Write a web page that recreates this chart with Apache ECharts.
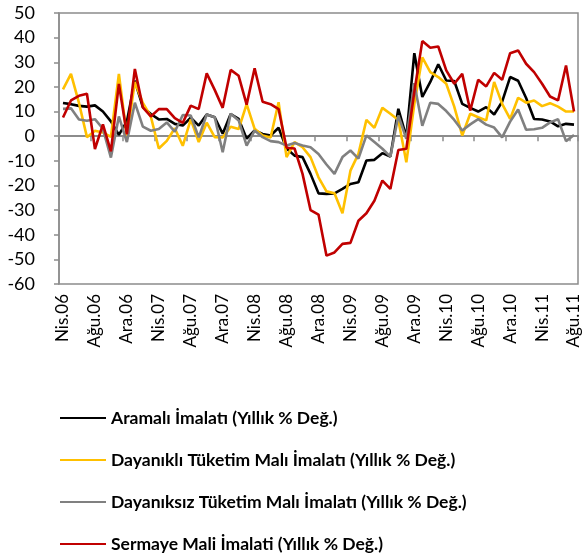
<!DOCTYPE html>
<html>
<head>
<meta charset="utf-8">
<script src="https://cdn.jsdelivr.net/npm/echarts@6/dist/echarts.min.js"></script>
<style>
html,body{margin:0;padding:0;background:#fff;}
#c{width:584px;height:559px;}
</style>
</head>
<body>
<div id="c"></div>
<script>
var categories = [
 'Nis.06','May.06','Haz.06','Tem.06','Ağu.06','Eyl.06','Eki.06','Kas.06','Ara.06',
 'Oca.07','Şub.07','Mar.07','Nis.07','May.07','Haz.07','Tem.07','Ağu.07','Eyl.07','Eki.07','Kas.07','Ara.07',
 'Oca.08','Şub.08','Mar.08','Nis.08','May.08','Haz.08','Tem.08','Ağu.08','Eyl.08','Eki.08','Kas.08','Ara.08',
 'Oca.09','Şub.09','Mar.09','Nis.09','May.09','Haz.09','Tem.09','Ağu.09','Eyl.09','Eki.09','Kas.09','Ara.09',
 'Oca.10','Şub.10','Mar.10','Nis.10','May.10','Haz.10','Tem.10','Ağu.10','Eyl.10','Eki.10','Kas.10','Ara.10',
 'Oca.11','Şub.11','Mar.11','Nis.11','May.11','Haz.11','Tem.11','Ağu.11'
];

var seriesNames = [
 'Aramalı İmalatı (Yıllık % Değ.)',
 'Dayanıklı Tüketim Malı İmalatı (Yıllık % Değ.)',
 'Dayanıksız Tüketim Malı İmalatı (Yıllık % Değ.)',
 'Sermaye Mali İmalati (Yıllık % Değ.)'
];

var aramali = [13.5,13,12.3,12,12.5,10,6,0.5,6,22.5,11.8,9,6.8,7,5,4.3,7.5,4.3,8.8,7.7,1,9,7,-1,2.3,0.9,0.3,3.4,-5,-7.9,-8.5,-15.3,-23.2,-23.4,-23.2,-21.4,-19.4,-18.7,-9.9,-9.6,-6.9,-8.3,11.1,-0.4,33.7,15.9,22,29.2,22.6,22.4,13.1,11.5,10,11.8,8.8,14,24,22.5,15.5,7,6.8,6,4,5,4.7];

var dayanikli = [19,25.3,13.5,-0.4,2.2,1.5,-0.3,25.3,0,22,13.5,8,-5,-1.9,3.2,-3.9,6.8,-2.4,5.5,-0.4,-0.5,3.8,2.9,13,3,0.3,-0.5,13.8,-8.5,-2.4,-4.5,-8.5,-16.7,-22.4,-23.2,-31.3,-14,-7.2,6.6,3.4,11.5,9.1,6.6,-10.6,13,32,26,24,21.3,12,0.3,9.1,7.7,6.4,22,13.1,7,15.6,13.6,14.5,12.2,13.4,12,10,10];

var dayaniksiz = [11.1,11.3,6.8,6.3,6.9,3,-8.7,8,-2.4,13.6,3.9,2.2,2.9,5.6,1.8,8.6,8.4,-0.5,8.8,7.7,-6.5,9.1,6.4,-3.8,2.3,-0.4,-2,-2.4,-3.8,-2.8,-3.8,-4.5,-7.2,-11.5,-15.3,-8.5,-5.8,-9.1,0.3,-2.4,-5.1,-8.3,8.4,-1.1,21.5,4.2,13.6,13.1,10.2,6.6,2.3,4.8,6.9,4.7,3.5,-0.5,5.9,10.8,2.6,2.8,3.4,5.6,6.9,-2,0.5];

var sermaye = [7.6,14.5,16.4,17.2,-5.2,4.8,-6.2,21.2,0.8,27.3,11.7,8,11,11,7.3,5.4,12.4,11,25.5,18.8,11.5,26.9,24.5,12.8,27.6,14,13,11,-4.7,-5,-15.3,-30,-31.8,-48.5,-47.2,-43.7,-43.3,-34.3,-31.3,-26.2,-18,-21.4,-5.6,-5.1,18,38.6,35.9,36.4,26.7,21.3,25.3,10.4,22.9,20.2,25.7,22.9,33.7,34.8,29.4,26,21.3,16.1,14.5,28.7,10];

var colors = ['#000000','#FFC000','#808080','#C00000'];
var values = [aramali, dayanikli, dayaniksiz, sermaye];

var FONT = 'Lato, "Liberation Sans", sans-serif';
var chart = echarts.init(document.getElementById('c'), null, {renderer:'canvas'});

var series = values.map(function(v, k){
  return {
    name: seriesNames[k],
    type: 'line',
    data: v,
    xAxisIndex: 0,
    yAxisIndex: 0,
    symbol: 'none',
    smooth: false,
    lineStyle: {color: colors[k], width: 2.6},
    itemStyle: {color: colors[k]},
    z: 3 + k,
    animation: false
  };
});

chart.setOption({
  animation: false,
  backgroundColor: '#ffffff',
  grid: {left: 59, right: 6, top: 13, bottom: 275, show: true, borderColor: '#8c8c8c', borderWidth: 1.5, backgroundColor: 'transparent'},
  legend: {
    orient: 'vertical',
    left: 55,
    top: 404,
    height: 155,
    itemWidth: 46,
    itemHeight: 16,
    itemGap: 24,
    icon: 'path://M0,7 L46,7 L46,9 L0,9 Z',
    data: seriesNames,
    textStyle: {fontFamily: FONT, fontSize: 17.5, fontWeight: 'bold', color: '#000'}
  },
  xAxis: [
    {
      type: 'category',
      data: categories,
      boundaryGap: true,
      position: 'bottom',
      axisLine: {show: false, onZero: false},
      axisTick: {show: false},
      axisLabel: {interval: 3, rotate: 90, margin: 10, fontFamily: FONT, fontSize: 17, color: '#000'},
      splitLine: {show: false}
    },
    {
      type: 'category',
      data: categories,
      boundaryGap: true,
      position: 'bottom',
      axisLine: {show: true, onZero: true, onZeroAxisIndex: 0, lineStyle: {color: '#8c8c8c', width: 2}},
      axisTick: {show: true, interval: 3, length: 5, inside: false, lineStyle: {color: '#8c8c8c', width: 1.5}},
      axisLabel: {show: false},
      splitLine: {show: false}
    }
  ],
  yAxis: {
    type: 'value',
    min: -60,
    max: 50,
    interval: 10,
    axisLine: {show: true, lineStyle: {color: '#8c8c8c', width: 1.5}},
    axisTick: {show: true, length: 5, lineStyle: {color: '#8c8c8c', width: 1.5}},
    axisLabel: {margin: 24, fontFamily: FONT, fontSize: 18, color: '#000'},
    splitLine: {show: false}
  },
  series: series
});
</script>
</body>
</html>
